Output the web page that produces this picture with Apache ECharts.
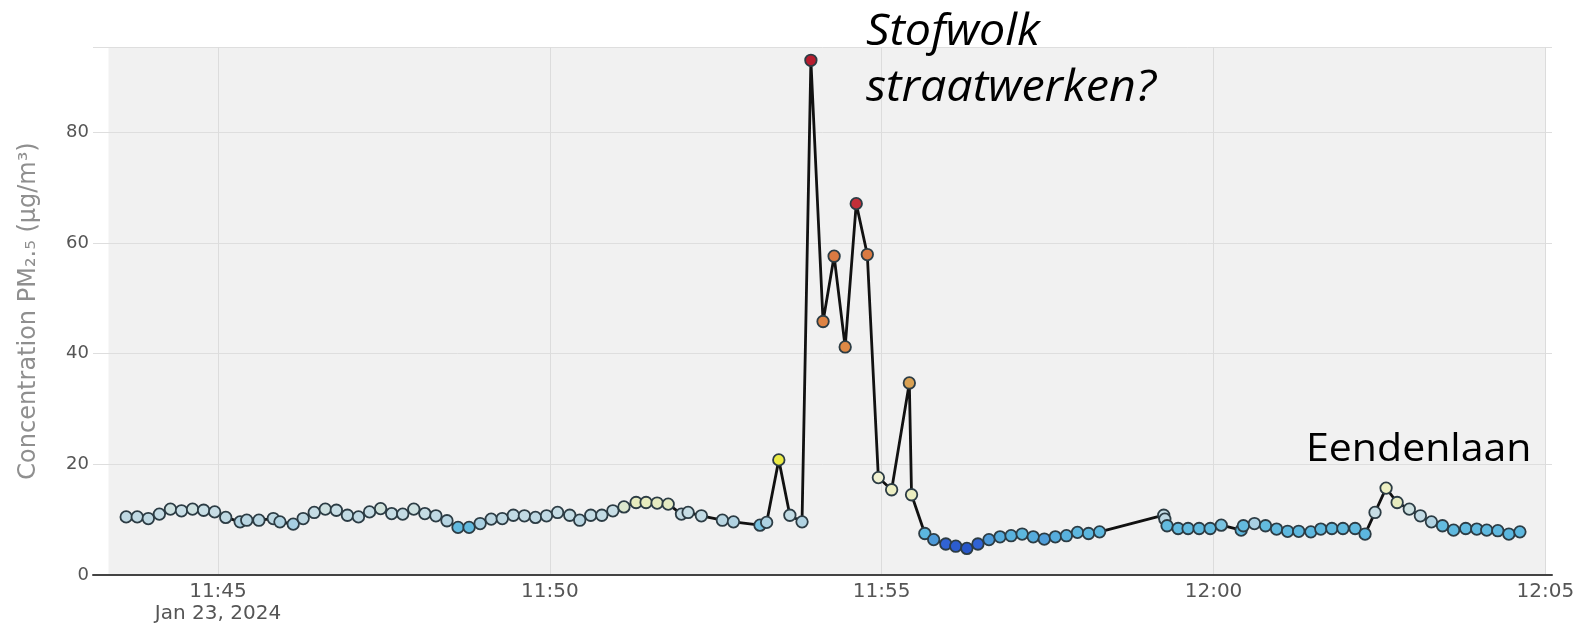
<!DOCTYPE html>
<html>
<head>
<meta charset="utf-8">
<script src="https://cdn.jsdelivr.net/npm/echarts@6/dist/echarts.min.js"></script>
<style>
  html, body { margin: 0; padding: 0; background: #ffffff; }
  #chart { width: 1580px; height: 626px; }
</style>
</head>
<body>
<div id="chart"></div>
<script>
// PM2.5 measurements along the route, Jan 23 2024 (time of day, µg/m³)
const times = [
  '11:43:37','11:43:47','11:43:57','11:44:07','11:44:17','11:44:27','11:44:37','11:44:47','11:44:57','11:45:07',
  '11:45:20','11:45:26','11:45:37','11:45:50','11:45:56','11:46:08','11:46:17','11:46:27','11:46:37','11:46:47',
  '11:46:57','11:47:07','11:47:17','11:47:27','11:47:37','11:47:47','11:47:57','11:48:07','11:48:17','11:48:27',
  '11:48:37','11:48:47','11:48:57','11:49:07','11:49:17','11:49:27','11:49:37','11:49:47','11:49:57','11:50:07',
  '11:50:18','11:50:27','11:50:37','11:50:47','11:50:57','11:51:07','11:51:18','11:51:27','11:51:37','11:51:47',
  '11:51:59','11:52:05','11:52:17','11:52:36','11:52:46','11:53:10','11:53:16','11:53:27','11:53:37','11:53:48',
  '11:53:56','11:54:07','11:54:17','11:54:27','11:54:37','11:54:47','11:54:57','11:55:09','11:55:25','11:55:27',
  '11:55:39','11:55:47','11:55:58','11:56:07','11:56:17','11:56:27','11:56:37','11:56:47','11:56:57','11:57:07',
  '11:57:17','11:57:27','11:57:37','11:57:47','11:57:57','11:58:07','11:58:17','11:59:15','11:59:16','11:59:18',
  '11:59:28','11:59:37','11:59:47','11:59:57','12:00:07','12:00:25','12:00:27','12:00:37','12:00:47','12:00:57',
  '12:01:07','12:01:17','12:01:28','12:01:37','12:01:47','12:01:57','12:02:08','12:02:17','12:02:26','12:02:36',
  '12:02:46','12:02:57','12:03:07','12:03:17','12:03:27','12:03:37','12:03:48','12:03:58','12:04:07','12:04:17',
  '12:04:27','12:04:37'
];
const pm25 = [
  10.5, 10.5, 10.2, 11.0, 11.9, 11.6, 11.9, 11.7, 11.4, 10.4,
  9.6, 9.9, 9.9, 10.2, 9.6, 9.2, 10.2, 11.3, 11.9, 11.7,
  10.8, 10.5, 11.4, 12.0, 11.1, 11.0, 11.9, 11.1, 10.7, 9.8,
  8.6, 8.6, 9.3, 10.1, 10.2, 10.8, 10.7, 10.4, 10.7, 11.3,
  10.8, 9.9, 10.8, 10.8, 11.6, 12.3, 13.1, 13.1, 13.0, 12.8,
  11.0, 11.3, 10.7, 9.9, 9.6, 9.0, 9.5, 20.8, 10.8, 9.6,
  93.0, 45.8, 57.6, 41.2, 67.1, 57.9, 17.6, 15.4, 34.7, 14.5,
  7.5, 6.4, 5.6, 5.2, 4.8, 5.6, 6.4, 6.9, 7.1, 7.4,
  6.9, 6.5, 6.9, 7.1, 7.7, 7.5, 7.8, 10.8, 10.1, 8.9,
  8.4, 8.4, 8.4, 8.4, 9.0, 8.1, 8.9, 9.3, 8.9, 8.3,
  7.9, 7.9, 7.8, 8.3, 8.4, 8.4, 8.4, 7.4, 11.3, 15.7,
  13.1, 11.9, 10.7, 9.6, 8.9, 8.1, 8.4, 8.3, 8.1, 8.0,
  7.4, 7.8
];

// Axis labels and text
const tickLabels = ['11:45', '11:50', '11:55', '12:00', '12:05'];
const dateLabel = 'Jan 23, 2024';
const yTicks = [0, 20, 40, 60, 80];
const yTitle = 'Concentration PM\u2082.\u2085 (\u03bcg/m\u00b3)';
const noteDust = ['Stofwolk', 'straatwerken?'];
const notePlace = 'Eendenlaan';

// Visible window of the time axis and of the shaded plot area
const xRange = ['11:43:07', '12:05:06'];
const plotArea = ['11:43:21', '12:05:00'];
const yMax = 95.4;

// Marker colour scale (value -> colour)
const colorStops = [
  [4.5, '#2352c6'], [5.8, '#3466d6'], [6.4, '#4d9ad9'], [7.2, '#5bb6df'],
  [8.9, '#63bbdf'], [9.2, '#a6cfe2'], [10.0, '#bcd7e2'], [11.8, '#cadfe6'],
  [12.4, '#dfe8c8'], [13.2, '#e8ecbe'], [16.0, '#eef0c4'], [18.0, '#f1f1d6'],
  [20.8, '#ebeb45'], [30.0, '#dfb760'], [35.0, '#d9a052'], [42.0, '#de8645'],
  [58.0, '#da7a42'], [65.0, '#c4303a'], [93.0, '#b71d2f']
];

// time of day "hh:mm:ss" -> minutes since midnight
function toMin(t) {
  const p = t.split(':').map(Number);
  return p[0] * 60 + p[1] + (p[2] || 0) / 60;
}
function minToLabel(m) {
  const r = Math.round(m * 60) / 60;
  const h = Math.floor(r / 60), mm = Math.round(r - h * 60);
  return String(h).padStart(2, '0') + ':' + String(mm).padStart(2, '0');
}
function hexToRgb(h) {
  const n = parseInt(h.slice(1), 16);
  return [(n >> 16) & 255, (n >> 8) & 255, n & 255];
}
function colorFor(v) {
  if (v <= colorStops[0][0]) return colorStops[0][1];
  for (let i = 1; i < colorStops.length; i++) {
    if (v <= colorStops[i][0]) {
      const [v0, c0] = colorStops[i - 1];
      const [v1, c1] = colorStops[i];
      const f = (v - v0) / (v1 - v0);
      const a = hexToRgb(c0), b = hexToRgb(c1);
      const c = a.map((x, k) => Math.round(x + (b[k] - x) * f));
      return 'rgb(' + c.join(',') + ')';
    }
  }
  return colorStops[colorStops.length - 1][1];
}

const points = times.map((t, i) => [toMin(t), pm25[i]]);
const tickValues = tickLabels.map(toMin);
const tickFont = 'DejaVu Sans, Verdana, sans-serif';
const noteFont = '"Open Sans", Lato, sans-serif';

const chart = echarts.init(document.getElementById('chart'), null, { renderer: 'canvas' });
chart.setOption({
  animation: false,
  backgroundColor: '#ffffff',
  grid: { left: 93, right: 28, top: 47, bottom: 51, containLabel: false },
  xAxis: {
    type: 'value',
    min: toMin(xRange[0]),
    max: toMin(xRange[1]),
    splitNumber: 4,
    axisLine: { show: true, onZero: false, lineStyle: { color: '#444444', width: 2 } },
    axisTick: { show: false },
    splitLine: {
      show: true, showMinLine: false, showMaxLine: false,
      lineStyle: { color: '#dcdcdc', width: 1 }
    },
    axisLabel: {
      color: '#555555', fontSize: 20, fontFamily: tickFont, lineHeight: 22, margin: 6,
      showMinLabel: true, showMaxLabel: true,
      formatter: function (v) {
        const near = tickValues.some(function (t) { return Math.abs(t - v) < 1e-6; });
        if (!near) return '';
        const s = minToLabel(v);
        return s === tickLabels[0] ? s + '\n' + dateLabel : s;
      }
    }
  },
  yAxis: {
    type: 'value',
    min: yTicks[0],
    max: yMax,
    interval: yTicks[1] - yTicks[0],
    axisLine: { show: false },
    axisTick: { show: false },
    splitLine: { show: true, lineStyle: { color: '#dedede', width: 1 } },
    axisLabel: {
      color: '#555555', fontSize: 18, fontFamily: tickFont, margin: 4,
      formatter: function (v) { return yTicks.indexOf(v) >= 0 ? String(v) : ''; }
    },
    name: yTitle,
    nameLocation: 'middle',
    nameGap: 52,
    nameTextStyle: { color: '#8f8f8f', fontSize: 24, fontFamily: tickFont }
  },
  series: [
    {
      // shaded plot background
      type: 'line',
      data: points,
      z: -1,
      silent: true,
      showSymbol: false,
      lineStyle: { opacity: 0 },
      markArea: {
        silent: true,
        z: -1,
        itemStyle: { color: '#f1f1f1' },
        data: [[{ xAxis: toMin(plotArea[0]) }, { xAxis: toMin(plotArea[1]) }]]
      }
    },
    {
      type: 'line',
      data: points,
      z: 2,
      silent: true,
      showSymbol: false,
      lineStyle: { color: '#111111', width: 2.8, join: 'round' }
    },
    {
      type: 'scatter',
      data: points,
      z: 3,
      symbol: 'circle',
      symbolSize: 11.5,
      itemStyle: {
        color: function (p) { return colorFor(p.value[1]); },
        borderColor: '#2c3c44',
        borderWidth: 1.8,
        opacity: 1
      }
    }
  ],
  graphic: [
    {
      type: 'text', left: 866, top: 10, z: 100, silent: true, scaleX: 1.06,
      style: { text: noteDust[0], fill: '#000000', font: 'italic 44px ' + noteFont }
    },
    {
      type: 'text', left: 866, top: 66, z: 100, silent: true, scaleX: 1.06,
      style: { text: noteDust[1], fill: '#000000', font: 'italic 44px ' + noteFont }
    },
    {
      type: 'text', left: 1306, top: 431, z: 100, silent: true, scaleX: 1.08,
      style: { text: notePlace, fill: '#000000', font: '38px ' + noteFont }
    }
  ]
});
</script>
</body>
</html>
